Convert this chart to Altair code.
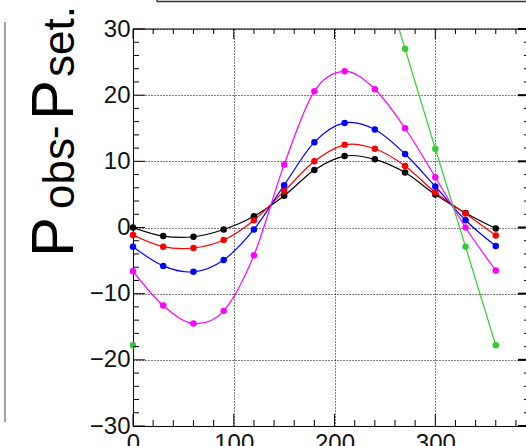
import altair as alt
import pandas as pd

# ---- data ----
angles = [0, 30, 60, 90, 120, 150, 180, 210, 240, 270, 300, 330, 360]
black = [0.0, -1.3, -1.4, -0.3, 1.7, 4.8, 8.7, 10.8, 10.3, 8.3, 5.0, 2.2, -0.15]
red = [-1.15, -2.9, -3.1, -1.9, 1.1, 5.5, 10.0, 12.5, 11.9, 9.3, 5.3, 2.1, -1.2]
blue = [-2.9, -5.8, -6.7, -4.9, -0.3, 6.4, 12.9, 15.8, 14.8, 11.1, 6.2, 1.1, -2.8]
magenta = [-6.6, -11.8, -14.5, -12.6, -4.2, 9.5, 20.6, 23.6, 20.9, 15.0, 7.6, 0.0, -6.5]
green_angles = [0, 240, 270, 300, 330, 360]
green = [-17.8, 42.0, 27.0, 11.9, -2.9, -17.8]

series_names = ["black", "red", "blue", "magenta"]
series_colors = ["#000000", "#ff0000", "#0000ff", "#ff00ff"]
green_color = "#33cc33"

x_labels = [0, 100, 200, 300]
y_labels = [-30, -20, -10, 0, 10, 20, 30]
x_minor = [v for v in range(20, 390, 20) if v % 100]
y_minor = [v for v in range(-28, 30, 2) if v % 10]

title_parts = ["P", "obs", "-", "P", "set."]

# ---- tables ----
rows = []
for name, vals in zip(series_names, [black, red, blue, magenta]):
    for a, v in zip(angles, vals):
        rows.append({"x": a, "y": v, "s": name})
df = pd.DataFrame(rows)
df_green = pd.DataFrame({"x": green_angles, "y": green})

W, H = 393, 397
FONT = "Liberation Sans"

X = alt.X("x:Q", scale=alt.Scale(domain=[0, 390], nice=False, zero=False),
          axis=alt.Axis(values=x_labels, grid=True, gridDash=[1, 2], gridColor="#000",
                        gridWidth=1, ticks=False, tickSize=0, domain=True,
                        domainColor="#000", domainWidth=1, labelFontSize=24,
                        labelFont=FONT, labelColor="#111", labelPadding=5,
                        labelFlush=False, labelOverlap=False, title=None))
Y = alt.Y("y:Q", scale=alt.Scale(domain=[-30, 30], nice=False, zero=False),
          axis=alt.Axis(values=y_labels, grid=True, gridDash=[1, 2], gridColor="#000",
                        gridWidth=1, ticks=False, tickSize=0, domain=True,
                        domainColor="#000", domainWidth=1, labelFontSize=24,
                        labelFont=FONT, labelColor="#111", labelPadding=3,
                        labelFlush=False, labelOverlap=False, format="d", title=None))

cscale = alt.Scale(domain=series_names, range=series_colors)

lines = alt.Chart(df).mark_line(interpolate="cardinal", strokeWidth=1.2, clip=True).encode(
    x=X, y=Y, color=alt.Color("s:N", scale=cscale, legend=None))
points = alt.Chart(df).mark_circle(size=42, opacity=1).encode(
    x=X, y=Y, color=alt.Color("s:N", scale=cscale, legend=None))
gline = alt.Chart(df_green).transform_filter(alt.datum.x >= 240).mark_line(
    strokeWidth=1.2, clip=True, color=green_color).encode(x=X, y=Y)
gpoints = alt.Chart(df_green).transform_filter(alt.datum.y <= 30).mark_circle(
    size=42, opacity=1, color=green_color).encode(x=X, y=Y)

# inward ticks (ROOT style)
dxM = pd.DataFrame({"x": x_labels})
dxm = pd.DataFrame({"x": x_minor})
dyM = pd.DataFrame({"y": y_labels})
dym = pd.DataFrame({"y": y_minor})
tk = dict(color="#000", strokeWidth=1)
ticks = [
    alt.Chart(dxM).mark_rule(**tk).encode(x=X, y=alt.value(H), y2=alt.value(H - 12)),
    alt.Chart(dxm).mark_rule(**tk).encode(x=X, y=alt.value(H), y2=alt.value(H - 6)),
    alt.Chart(dxM).mark_rule(**tk).encode(x=X, y=alt.value(0), y2=alt.value(10)),
    alt.Chart(dxm).mark_rule(**tk).encode(x=X, y=alt.value(0), y2=alt.value(5)),
    alt.Chart(dyM).mark_rule(**tk).encode(y=Y, x=alt.value(0), x2=alt.value(12)),
    alt.Chart(dym).mark_rule(**tk).encode(y=Y, x=alt.value(0), x2=alt.value(6)),
    alt.Chart(dyM).mark_rule(color="#000", strokeWidth=2).encode(y=Y, x=alt.value(W), x2=alt.value(W - 8)),
    alt.Chart(dym).mark_rule(**tk).encode(y=Y, x=alt.value(W), x2=alt.value(W - 2)),
]

one = pd.DataFrame({"k": [0]})
frame = [
    alt.Chart(one).mark_rule(color="#000", strokeWidth=1).encode(
        x=alt.value(0), x2=alt.value(W), y=alt.value(0)),
    # box edge at top (neighbouring pad)
    alt.Chart(one).mark_rule(color="#333", strokeWidth=1.5).encode(
        x=alt.value(24), x2=alt.value(W), y=alt.value(-27.5)),
    alt.Chart(one).mark_rule(color="#333", strokeWidth=1.5).encode(
        x=alt.value(24), y=alt.value(-30), y2=alt.value(-27.5)),
    # neighbouring pad frame on the left edge
    alt.Chart(one).mark_rule(color="#444", strokeWidth=1).encode(
        x=alt.value(-128), y=alt.value(-7), y2=alt.value(393)),
]

# y title P_obs - P_set.
def ttext(txt, xpos, ypos, size):
    return alt.Chart(pd.DataFrame({"t": [txt]})).mark_text(
        angle=270, align="left", baseline="alphabetic", font=FONT,
        fontSize=size, color="#000").encode(
        text="t:N", x=alt.value(xpos), y=alt.value(ypos))

titles = [
    ttext(title_parts[0], -60, 228, 60),
    ttext(title_parts[1], -59, 180, 44),
    ttext(title_parts[2], -66, 110, 40),
    ttext(title_parts[3], -60, 91, 60),
    ttext(title_parts[4], -59, 48, 44),
]

chart = alt.layer(lines, points, gline, gpoints, *ticks, *frame, *titles).properties(
    width=W, height=H,
    autosize=alt.AutoSizeParams(type="none"),
    padding={"left": 133, "top": 29, "right": 0, "bottom": 20},
    background="white",
).configure_view(stroke=None)

chart.save("out.html", embed_options={"renderer": "svg", "actions": False})
